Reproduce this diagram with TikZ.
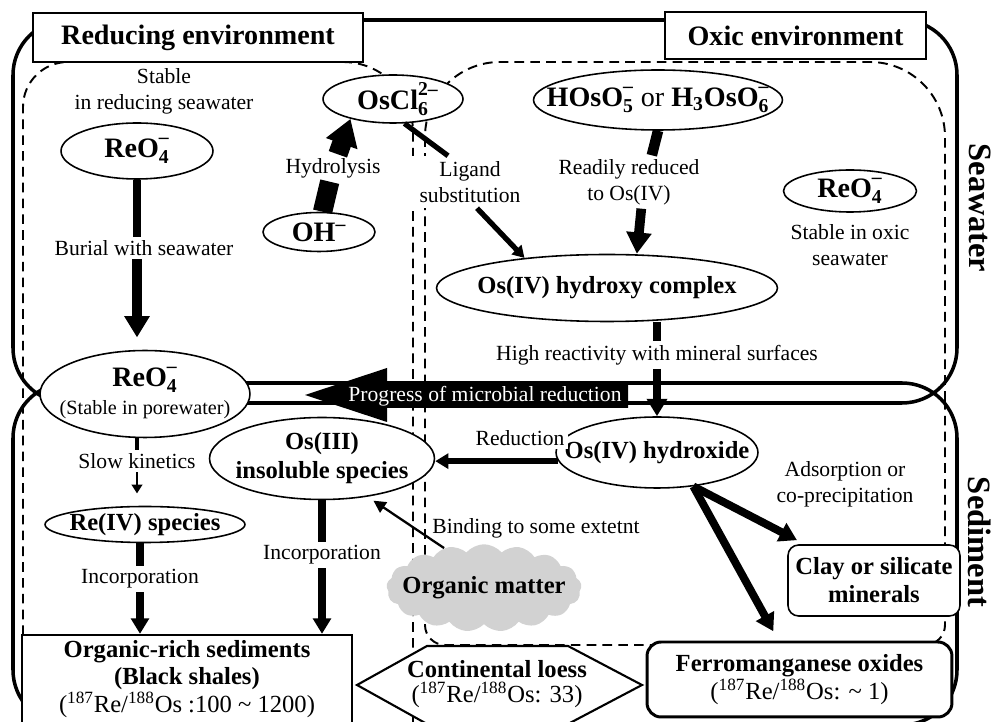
\documentclass[tikz,border=0pt]{standalone}
\usepackage{fontspec}
\setmainfont{Liberation Serif}
\usetikzlibrary{arrows.meta,shapes.geometric,shapes.symbols}
\newcommand{\ionsub}[2]{\rlap{\raisebox{1.5pt}{\textsuperscript{#2}}}\raisebox{-1pt}{\textsubscript{#1}}}
\newcommand{\zerow}[1]{\makebox[0pt]{#1}}
\newcommand{\rat}{(\textsuperscript{187}Re/\textsuperscript{188}Os}
\tikzset{
  region/.style={line width=2pt, rounded corners=1.1cm},
  dashbox/.style={line width=1.1pt, dash pattern=on 5.5pt off 3.5pt},
  titlebox/.style={draw, fill=white, line width=0.9pt, inner sep=0pt, font=\bfseries\fontsize{16}{19}\selectfont},
  side/.style={rotate=-90, inner sep=0pt, font=\bfseries\fontsize{18.5}{22}\selectfont},
  oval/.style 2 args={draw, ellipse, fill=white, line width=0.9pt, inner sep=0pt, minimum width=#1, minimum height=#2, font=\bfseries\fontsize{14}{16.5}\selectfont},
  ion/.style={font=\bfseries\fontsize{16}{19}\selectfont},
  note/.style={fill=white, inner sep=2pt, align=center, font=\fontsize{12.3}{14.8}\selectfont},
  store/.style={draw, fill=white, inner sep=0pt, align=center, font=\fontsize{14}{15.8}\selectfont},
  stem/.style={line width=#1},
  arr/.style={line width=#1, -{Triangle[width=0pt 2.5, length=0pt 2.2]}}
}
\begin{document}
\begin{tikzpicture}[x=0.02cm, y=-0.02cm]
\useasboundingbox (0,0) rectangle (995,722);
% dashed environments
\draw[dashbox, rounded corners=0.9cm] (23,730) -- (23,62) -- (200,62);
\draw[dashbox, rounded corners=1.4cm] (200,62) -- (413,62) -- (413,730);
\draw[dashbox, rounded corners=1.5cm] (425,400) -- (425,62) -- (945,62) -- (945,400);
\draw[dashbox, rounded corners=0.4cm] (945,400) -- (945,645) -- (425,645) -- (425,400);
% seawater and sediment
\draw[region] (13,20) rectangle (957,403);
\draw[region] (13,383) rectangle (957,725);
\node[titlebox, minimum width=6.6cm, minimum height=0.98cm] (redt) at (198,37.5) {Reducing environment};
\node[titlebox, minimum width=5.22cm, minimum height=0.94cm] (oxt) at (795.5,35.5) {Oxic environment};
\node[side] (seaw) at (980,208) {Seawater};
\node[side] (sedi) at (980,542) {Sediment};

% seawater species
\node[note] (stred) at (164,91.5) {Stable\\in reducing seawater};
\node[oval={3.04cm}{1.12cm}, ion] (reored) at (137,151) {\zerow{ReO\ionsub{4}{--}}};
\node[note] (burial) at (144,248) {Burial with seawater};
\node[oval={4.2cm}{1.44cm}, ion] (reopore) at (145,394) {\zerow{\begin{tabular}{@{}c@{}}ReO\ionsub{4}{--}\\[-3pt]{\mdseries\fontsize{11.5}{13}\selectfont(Stable in porewater)}\end{tabular}}};
\node[oval={2.8cm}{0.96cm}, ion] (oscl) at (393,99) {\zerow{OsCl\ionsub{6}{2--}}};
\node[note] (hydro) at (333,168) {Hydrolysis};
\node[oval={2.24cm}{0.78cm}, ion] (oh) at (319,232) {\zerow{OH\textsuperscript{--}}};
\node[note, inner xsep=7pt, inner ysep=3pt] (ligand) at (470,182) {Ligand\\substitution};
\node[oval={4.98cm}{1.2cm}, ion] (hoso) at (658,100) {\zerow{HOsO\ionsub{5}{--} {\mdseries or} H\textsubscript{3}OsO\ionsub{6}{--}}};
\node[note] (readily) at (629,182) {Readily reduced\\to Os(IV)};
\node[oval={2.66cm}{0.84cm}, ion] (reoox) at (850,191) {\zerow{ReO\ionsub{4}{--}}};
\node[note] (stox) at (850,245) {Stable in oxic\\seawater};
\node[oval={6.82cm}{1.34cm}] (hydcplx) at (607,288) {\zerow{Os(IV) hydroxy complex}};
\node[note] (high) at (657,355) {High reactivity with mineral surfaces};

% microbial reduction
\fill (628,384) -- (387,384) -- (387,368) -- (305,395) -- (387,422) -- (387,408) -- (628,408) -- cycle;
\node[note, fill=none, text=white] (prog) at (485,396) {Progress of microbial reduction};

% sediment species
\node[oval={4.04cm}{1.42cm}] (hydrox) at (657,452.5) {\zerow{Os(IV) hydroxide}};
\node[note] (reduc) at (520,438) {Reduction};
\node[oval={4.5cm}{1.46cm}] (os3) at (322,458.5) {\zerow{\begin{tabular}{@{}c@{}}Os(III)\\insoluble species\end{tabular}}};
\node[note] (slow) at (137,461) {Slow kinetics};
\node[oval={4cm}{0.72cm}] (re4) at (145,524.5) {\zerow{Re(IV) species}};
\node[note] (inc1) at (140,579) {Incorporation};
\node[note] (inc2) at (322,555) {Incorporation};
\node[cloud, cloud puffs=17, cloud puff arc=100, fill=gray!35, minimum width=3.9cm, minimum height=1.75cm, inner sep=0pt, font=\bfseries\fontsize{14}{16}\selectfont] (organic) at (484,588) {\zerow{Organic matter}};
\node[note, fill=none] (binding) at (536,528) {Binding to some extetnt};
\node[note] (adsorb) at (845,484) {Adsorption or\\co-precipitation};
\node[store, rounded corners=6pt, line width=0.9pt, minimum width=3.44cm, minimum height=1.42cm, font=\bfseries\fontsize{14}{16}\selectfont] (clay) at (874,580.5) {Clay or silicate\\minerals};
\node[store, rounded corners=8pt, line width=1.7pt, minimum width=6.1cm, minimum height=1.5cm] (ferro) at (799.5,679.5) {\textbf{Ferromanganese oxides}\\\rat: \textasciitilde{} 1)};
\node[store, line width=1.3pt, minimum width=6.6cm, minimum height=1.76cm] (orgrich) at (187,679) {\textbf{Organic-rich sediments}\\\textbf{(Black shales)}\\\rat{} :100 \textasciitilde{} 1200)};
\draw[line width=1.2pt, fill=white] (357,685) -- (427,646) -- (568,646) -- (642,685) -- (568,724) -- (427,724) -- cycle;
\node[store, draw=none, fill=none, font=\fontsize{14}{14.5}\selectfont] (loess) at (497,684) {\textbf{Continental loess}\\\rat: 33)};

% pathways
\draw[stem=4pt] (reored.south) -- (reored.south |- burial.north);
\draw[arr=5.5pt, shorten >=7pt] (burial.south -| reored.south) -- (reored.south |- reopore.north);
\draw[line width=11pt] (oh.80) -- (hydro);
\draw[line width=11pt, -{Triangle[width=18pt,length=15pt]}] (hydro) -- (oscl.205);
\draw[stem=3pt] (oscl.295) -- (ligand.130);
\draw[arr=3pt] (ligand.-75) -- (hydcplx.160);
\draw[stem=6pt] (hoso.south) -- ([xshift=13pt]readily.north);
\draw[arr=5.5pt] ([xshift=7pt]readily.south) -- ([xshift=17pt]hydcplx.north);
\draw[stem=4.5pt] (high.north |- hydcplx.south) -- (high.north);
\draw[arr=4.5pt] (high.south) -- (hydrox.north);
\draw[stem=2.3pt] (reopore.south -| slow.north) -- (slow.north);
\draw[arr=1.5pt, -{Triangle[width=6pt,length=5pt]}, shorten >=7pt] (slow.south) -- (slow.south |- re4.north);
\draw[stem=4pt] (re4.south -| inc1.north) -- (inc1.north);
\draw[arr=4pt] (inc1.south) -- (inc1.south |- orgrich.north);
\draw[stem=4.5pt] (os3.south) -- (inc2.north);
\draw[arr=4pt] (inc2.south) -- (inc2.south |- orgrich.north);
\draw[arr=1.3pt, -{Triangle[width=7pt,length=7pt]}, shorten >=4pt] (organic.135) -- (os3.-40);
\draw[arr=3.4pt] (hydrox.185) -- (hydrox.185 -| os3.east);
\draw[arr=4.5pt, shorten >=5pt] (hydrox.-43) -- ([xshift=10pt]clay.north west);
\draw[arr=4.5pt, shorten >=6pt] (hydrox.-43) -- ([xshift=-12pt]ferro.north);
\end{tikzpicture}
\end{document}
